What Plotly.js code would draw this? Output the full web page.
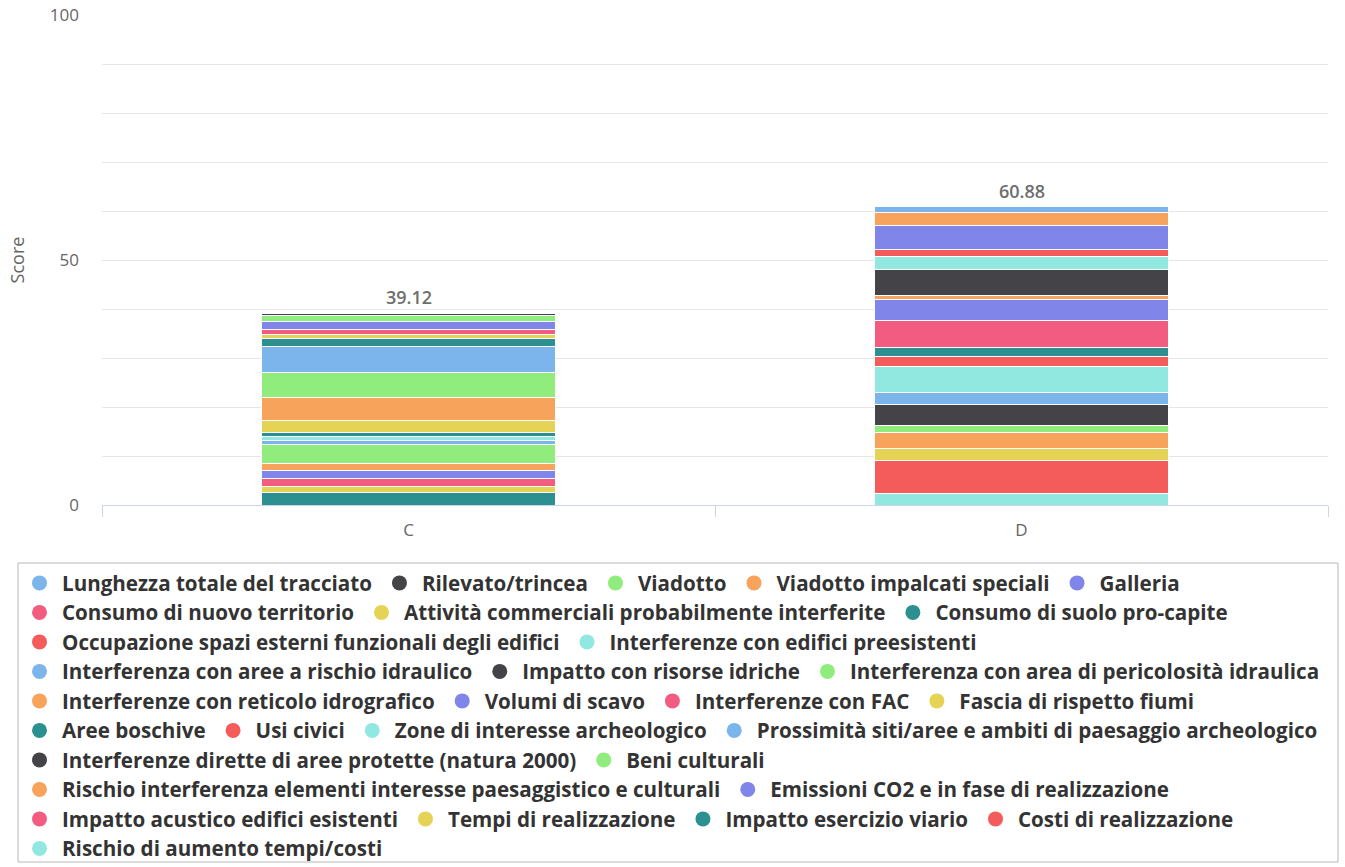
<!DOCTYPE html>
<html>
<head>
<meta charset="utf-8">
<script src="https://cdn.plot.ly/plotly-3.0.1.min.js"></script>
<style>
  html, body { margin: 0; padding: 0; background: #ffffff; }
  #chart { width: 1345px; height: 867px; }
</style>
</head>
<body>
<div id="chart"></div>
<script>
// Alternatives being compared
const categories = ['C', 'D'];

// Criteria, in legend order (the first one sits at the top of each stack)
const seriesNames = [
  'Lunghezza totale del tracciato',
  'Rilevato/trincea',
  'Viadotto',
  'Viadotto impalcati speciali',
  'Galleria',
  'Consumo di nuovo territorio',
  'Attività commerciali probabilmente interferite',
  'Consumo di suolo pro-capite',
  'Occupazione spazi esterni funzionali degli edifici',
  'Interferenze con edifici preesistenti',
  'Interferenza con aree a rischio idraulico',
  'Impatto con risorse idriche',
  'Interferenza con area di pericolosità idraulica',
  'Interferenze con reticolo idrografico',
  'Volumi di scavo',
  'Interferenze con FAC',
  'Fascia di rispetto fiumi',
  'Aree boschive',
  'Usi civici',
  'Zone di interesse archeologico',
  'Prossimità siti/aree e ambiti di paesaggio archeologico',
  'Interferenze dirette di aree protette (natura 2000)',
  'Beni culturali',
  'Rischio interferenza elementi interesse paesaggistico e culturali',
  'Emissioni CO2 e in fase di realizzazione',
  'Impatto acustico edifici esistenti',
  'Tempi di realizzazione',
  'Impatto esercizio viario',
  'Costi di realizzazione',
  'Rischio di aumento tempi/costi'
];

// Score contributed by each criterion to alternative C
const scoreC = [
  0, 0.52, 1.11, 0, 1.61, 1.15, 0.69, 1.61, 0, 0,
  5.39, 0, 5.12, 4.70, 0, 0, 2.51, 0.73, 0, 0.88,
  0.84, 0, 3.86, 1.29, 1.73, 1.67, 1.09, 2.62, 0, 0
];

// Score contributed by each criterion to alternative D
const scoreD = [
  1.11, 0, 0, 2.69, 4.92, 0, 0, 0, 1.50, 2.51,
  0, 5.47, 0, 0.70, 4.38, 5.51, 0, 1.83, 2.02, 5.35,
  2.41, 4.32, 1.36, 3.29, 0, 0, 2.34, 0, 6.85, 2.32
];

// Legend rows (indices into seriesNames)
const legendRows = [
  [0, 1, 2, 3, 4],
  [5, 6, 7],
  [8, 9],
  [10, 11, 12],
  [13, 14, 15, 16],
  [17, 18, 19, 20],
  [21, 22],
  [23, 24],
  [25, 26, 27, 28],
  [29]
];

const palette = ['#7cb5ec', '#434348', '#90ed7d', '#f7a35c', '#8085e9',
                 '#f15c80', '#e4d354', '#2b908f', '#f45b5b', '#91e8e1'];

// Page geometry
const W = 1345, H = 867;
const M = { l: 102, r: 17, t: 15, b: 362 };
const plotW = W - M.l - M.r;
const plotH = H - M.t - M.b;
const paperX = px => (px - M.l) / plotW;
const paperY = py => (H - M.b - py) / plotH;

const traces = [];

// Stacked bars: the last criterion goes in first so it ends up at the bottom
for (let i = seriesNames.length - 1; i >= 0; i--) {
  traces.push({
    type: 'bar',
    name: seriesNames[i],
    x: categories,
    y: [scoreC[i], scoreD[i]],
    marker: { color: palette[i % palette.length], line: { color: '#ffffff', width: 1 } },
    showlegend: false,
    legendgroup: 'g' + i,
    hoverinfo: 'skip'
  });
}

// Round legend keys, one legend per row
const legendFont = { family: 'Open Sans, sans-serif', size: 20.6, color: '#333333', weight: 700 };
const rowTop = 583, rowStep = 29.5;
const legendLayouts = {};
legendRows.forEach((row, r) => {
  const id = r === 0 ? 'legend' : 'legend' + (r + 1);
  legendLayouts[id] = {
    orientation: 'h',
    x: paperX(17), xanchor: 'left',
    y: paperY(rowTop + r * rowStep), yanchor: 'middle',
    bgcolor: 'rgba(0,0,0,0)', borderwidth: 0,
    font: legendFont,
    itemwidth: 35,
    itemclick: false, itemdoubleclick: false,
    traceorder: 'normal'
  };
  row.forEach(i => {
    traces.push({
      type: 'scatter', mode: 'markers',
      x: [null], y: [null],
      name: seriesNames[i],
      legend: id,
      legendgroup: 'g' + i,
      marker: { color: palette[i % palette.length], size: 15, symbol: 'circle' },
      showlegend: true,
      hoverinfo: 'skip'
    });
  });
});

// Stack totals
const totals = categories.map((c, k) => {
  const vals = k === 0 ? scoreC : scoreD;
  return vals.reduce((a, b) => a + b, 0);
});
const annotations = categories.map((c, k) => ({
  x: c, y: totals[k], xref: 'x', yref: 'y',
  text: totals[k].toFixed(2),
  showarrow: false, yanchor: 'bottom', yshift: 2,
  font: { family: 'Open Sans, sans-serif', size: 18, color: '#6e6e6e', weight: 600 }
}));

const axisFont = { family: 'Open Sans, sans-serif', size: 17, color: '#666666' };

const layout = Object.assign({
  width: W, height: H,
  margin: Object.assign({ autoexpand: false }, M),
  paper_bgcolor: '#ffffff', plot_bgcolor: '#ffffff',
  barmode: 'stack', bargap: 0.52,
  hovermode: false,
  xaxis: {
    type: 'category', range: [-0.5, 1.5],
    showline: true, linecolor: '#ccd6eb', linewidth: 1,
    ticks: 'outside', tickson: 'boundaries', ticklen: 11, tickcolor: '#ccd6eb',
    tickfont: axisFont, ticklabelstandoff: 10,
    showgrid: false, zeroline: false, fixedrange: true
  },
  yaxis: {
    range: [0, 100], tickvals: [0, 50, 100],
    tickfont: axisFont, ticks: '', ticklabelstandoff: 22,
    showgrid: true, gridcolor: '#e6e6e6', gridwidth: 1,
    minor: { dtick: 10, showgrid: true, gridcolor: '#e6e6e6', gridwidth: 1 },
    zeroline: false, showline: false, fixedrange: true,
    title: { text: 'Score', font: { family: 'Open Sans, sans-serif', size: 18, color: '#666666' }, standoff: 20 }
  },
  annotations: annotations,
  shapes: [{
    type: 'rect', xref: 'paper', yref: 'paper',
    x0: paperX(18), x1: paperX(1338), y0: paperY(862), y1: paperY(563),
    line: { color: '#b8b8b8', width: 1 }, fillcolor: 'rgba(0,0,0,0)'
  }]
}, legendLayouts);

Plotly.newPlot('chart', traces, layout, { displayModeBar: false, staticPlot: true });
</script>
</body>
</html>
